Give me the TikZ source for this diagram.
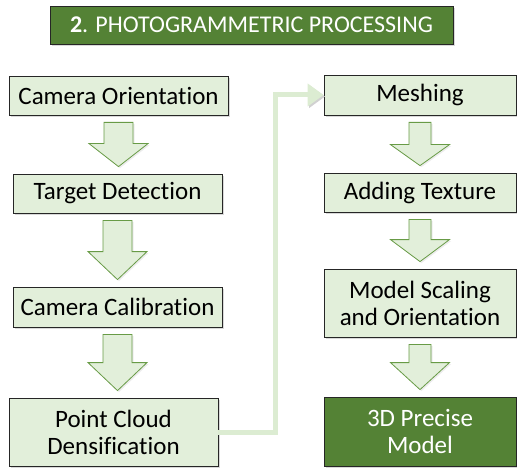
\documentclass[tikz,border=0pt]{standalone}
\usepackage{fontspec}
\setmainfont{Carlito}[Ligatures = NoCommon]
\usetikzlibrary{arrows.meta, calc, shadows}
\definecolor{lgreen}{RGB}{226,239,218}
\definecolor{dgreen}{RGB}{84,130,53}
\definecolor{agreen}{RGB}{104,155,70}
\definecolor{cgreen}{RGB}{220,236,210}

\begin{document}
\begin{tikzpicture} [x = 1pt, y = -1pt,
  box/.style = {draw = black!85, line width = .8pt, fill = lgreen, align = center, inner sep = 0pt,
    minimum height = 39pt, font = \fontsize{25}{27}\selectfont,
    drop shadow = {opacity = .3, shadow xshift = 2pt, shadow yshift = -2pt}},
  dbox/.style = {box, fill = dgreen, text = white},
  blk/.style = {draw = agreen, fill = lgreen, line width = .8pt,
    drop shadow = {opacity = .15, shadow xshift = 1.5pt, shadow yshift = -1.5pt}},
  conn/.style = {draw = cgreen, line width = 5pt, -{Triangle[length = 16pt, width = 22pt]},
    preaction = {draw = black!18, transform canvas = {shift = {(1.5pt,-1.5pt)}}}}]
\useasboundingbox (0,0) rectangle (517,468);
% title
\node[dbox, minimum width = 403pt, minimum height = 38pt, font = \fontsize{24}{28}\selectfont](t) at (251.5,25) {\textbf{2}. PHOTOGRAMMETRIC PROCESSING};
% left column
\node[box, minimum width = 219pt](l1) at (118.5,95.5) {Camera Orientation};
\node[box, minimum width = 209pt](l2) at (117.5,193.5) {Target Detection};
\node[box, minimum width = 209pt, minimum height = 40pt](l3) at (117.5,307) {Camera Calibration};
\node[box, minimum width = 209pt, minimum height = 68pt](l4) at (113.5,432) {Point Cloud\\Densification};
% right column
\node[box, minimum width = 192pt, minimum height = 40pt](r1) at (420,95) {Meshing};
\node[box, minimum width = 192pt](r2) at (420,192.5) {Adding Texture};
\node[box, minimum width = 192pt, minimum height = 68pt](r3) at (420,303) {Model Scaling\\and Orientation};
\node[dbox, minimum width = 192pt, minimum height = 69pt](r4) at (420,431.5) {3D Precise\\Model};
% block arrows
\foreach \a/\b/\s/\h in {l1/l2/14.5/23, l2/l3/14.5/28, l3/l4/14.5/28, r1/r2/11/21, r2/r3/11/22, r3/r4/11/27}
  \draw[blk] let \p1 = ($(\a.south)+(0,7)$), \p2 = ($(\b.north)+(0,-7)$) in
    (\x1-\s*1pt,\y1) -- (\x1+\s*1pt,\y1) -- (\x1+\s*1pt,\y2+\h*1pt) -- (\x1+29.5pt,\y2+\h*1pt)
    -- (\x1,\y2) -- (\x1-29.5pt,\y2+\h*1pt) -- (\x1-\s*1pt,\y2+\h*1pt) -- cycle;
% connector
\draw[conn] (l4.east) -- ++(57,0) |- (r1.west);
\end{tikzpicture}
\end{document}
